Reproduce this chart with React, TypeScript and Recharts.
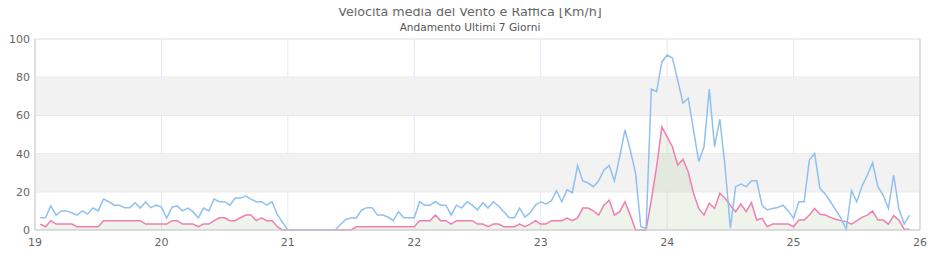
import React from 'react';
import {
  ComposedChart, Line, Area, XAxis, YAxis, CartesianGrid, ReferenceArea, ReferenceLine
} from 'recharts';

// hourly readings, first one at 19 01:00
const startDay = 19;
const startHour = 1;

// raffica (gust), km/h
const gust = [
  6.4, 6.4, 12.6, 7.8, 10, 10, 9, 7.8, 10, 8.3, 11.5, 10, 16.2, 14.8, 13, 13, 11.7, 11.7, 14.3, 11.5,
  14.7, 11.7, 13, 12, 6.3, 12, 12.6, 10, 11.5, 9.6, 6.3, 11.5, 10, 16.2, 14.8, 14.8, 13, 16.7, 16.7, 17.8,
  16.2, 14.8, 14.8, 13, 14.8, 8, 4, 0, 0, 0, 0, 0, 0, 0, 0, 0, 0, 3, 5.5, 6.3,
  6.3, 10.5, 11.7, 11.7, 7.8, 7.8, 6.8, 4.9, 9.6, 6.4, 6.4, 6.4, 14.8, 13, 13, 14.8, 13, 13, 7.8, 13,
  11.5, 14.8, 13, 10.5, 14.3, 11.5, 14.8, 12.6, 9.6, 6.4, 6.4, 11.5, 6.8, 9, 13, 14.8, 13.6, 15.2, 20.6, 14.8,
  21, 19.5, 33.7, 25.7, 24.6, 22.7, 25.7, 31.4, 33.7, 25.7, 38.4, 52.4, 41.9, 29.8, 1.7, 0.8, 73.8, 72.4, 88, 91.6,
  90, 78.5, 66.5, 69, 52.4, 35.8, 43.6, 73.8, 43.6, 58, 33, 1, 22.7, 24, 22.7, 25.8, 25.8, 13, 10.5, 11.3,
  11.8, 13, 10, 6.1, 14.8, 14.8, 36.6, 40, 21.8, 18.8, 14.8, 10.5, 6.1, 0.4, 20.6, 14.8, 23, 28.8, 35.2, 22.7,
  18.3, 11.3, 28.8, 10.8, 3.1, 7.8,
];

// velocita media, km/h
const mean = [
  3.1, 1.7, 4.9, 3.1, 3.1, 3.1, 3.1, 1.7, 1.7, 1.7, 1.7, 1.7, 4.9, 4.9, 4.9, 4.9, 4.9, 4.9, 4.9, 4.9,
  3.1, 3.1, 3.1, 3.1, 3.1, 4.9, 4.9, 3.1, 3.1, 3.1, 1.7, 3.1, 3.1, 4.9, 6.4, 6.4, 4.9, 4.9, 6.4, 7.8,
  7.8, 4.9, 6.4, 4.9, 4.9, 1.7, 0, 0, 0, 0, 0, 0, 0, 0, 0, 0, 0, 0, 0, 0,
  1.7, 1.7, 1.7, 1.7, 1.7, 1.7, 1.7, 1.7, 1.7, 1.7, 1.7, 1.7, 4.9, 4.9, 4.9, 7.8, 4.9, 4.9, 3.1, 4.9,
  4.9, 4.9, 4.9, 3.1, 3.1, 1.7, 3.1, 3.1, 1.7, 1.7, 1.7, 3.1, 1.7, 3.1, 4.9, 3.1, 3.1, 4.9, 4.9, 4.9,
  6.3, 4.9, 6.3, 11.5, 11.5, 10, 7.8, 13, 15.7, 7.8, 9.6, 14.8, 7.8, 0, 0, 0, 15.7, 33, 54, 48.8,
  43.6, 34, 37, 30.5, 19.2, 11.3, 7.8, 14, 11.3, 19.2, 16.6, 13, 9.6, 13.6, 9.6, 14.3, 5.2, 6.1, 1.7, 3.1,
  3.1, 3.1, 3.1, 1.7, 5.2, 5.2, 7.8, 11.3, 8.2, 7.8, 6.6, 5.6, 4.9, 4.4, 3.1, 4.9, 6.6, 7.8, 10, 5.2,
  5.2, 3.1, 7.5, 5.2, 0.4, 0.4,
];

const dayTicks = [19, 20, 21, 22, 23, 24, 25, 26];
const speedTicks = [0, 20, 40, 60, 80, 100];
const shadedBands = [[20, 40], [60, 80]];

const data = gust.map((g, i) => ({
  t: startDay + (i + startHour) / 24,
  gust: g,
  mean: mean[i],
}));

const tickStyle = { fill: '#666', fontSize: 11 };

export default function App() {
  return (
    <div style={{ position: 'relative', margin: '-8px 0 0 -8px', width: 940, height: 252, fontFamily: 'DejaVu Sans' }}>
      <ComposedChart width={940} height={252} data={data} margin={{ top: 39, right: 20, bottom: 0, left: 8 }}>
        {shadedBands.map(([lo, hi]) => (
          <ReferenceArea key={lo} y1={lo} y2={hi} fill="#f2f2f2" fillOpacity={1} stroke="none" />
        ))}
        <CartesianGrid horizontal={false} stroke="#e8e6f8" />
        <CartesianGrid vertical={false} stroke="#dddddd" />
        <XAxis
          dataKey="t"
          type="number"
          domain={[19, 26]}
          ticks={dayTicks}
          stroke="#cccccc"
          tickLine={false}
          tick={tickStyle}
          height={22}
          allowDecimals={false}
        />
        <YAxis
          domain={[0, 100]}
          ticks={speedTicks}
          stroke="#cccccc"
          tickLine={false}
          tickSize={3}
          tickMargin={2}
          tick={tickStyle}
          width={27}
        />
        <ReferenceLine x={26} stroke="#cccccc" />
        <Area
          type="linear"
          dataKey="mean"
          stroke="#ee7fb0"
          strokeWidth={1.5}
          fill="#9fc088"
          fillOpacity={0.18}
          dot={false}
          isAnimationActive={false}
        />
        <Line
          type="linear"
          dataKey="gust"
          stroke="#8fc0f0"
          strokeWidth={1.5}
          dot={false}
          isAnimationActive={false}
        />
      </ComposedChart>
      <svg width={940} height={36} style={{ position: 'absolute', top: 0, left: 0, zIndex: 2 }}>
        <text x={470} y={16} textAnchor="middle" fontSize={12.7} fill="#666" fontFamily="DejaVu Sans">
          Velocità media del Vento e Raffica [Km/h]
        </text>
        <text x={470} y={31} textAnchor="middle" fontSize={10.6} fill="#555" fontFamily="DejaVu Sans">
          Andamento Ultimi 7 Giorni
        </text>
      </svg>
    </div>
  );
}
